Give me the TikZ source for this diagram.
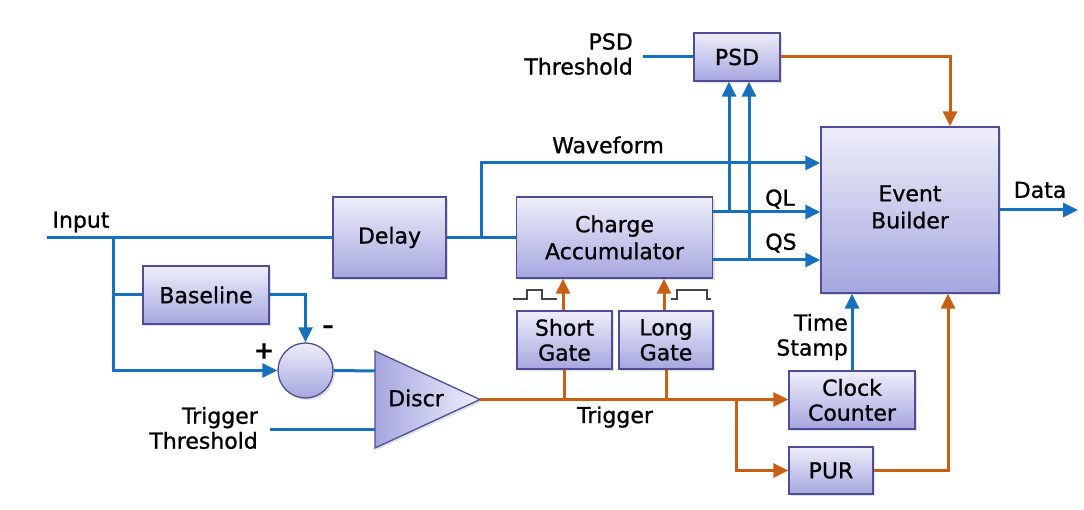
\documentclass[tikz,border=0pt]{standalone}
\usepackage{fontspec}
\setmainfont{DejaVu Sans}[FakeBold=0.9]
\usetikzlibrary{arrows.meta,calc,shadows}
\definecolor{bl}{RGB}{22,112,188}
\definecolor{og}{RGB}{200,95,20}
\definecolor{bxt}{RGB}{238,238,250}
\definecolor{bxb}{RGB}{166,166,224}
\definecolor{bxd}{RGB}{78,78,150}
\definecolor{pulse}{RGB}{70,70,70}
\begin{document}
\begin{tikzpicture}[x=1pt,y=-1pt,
  font=\fontsize{22}{25}\selectfont,
  blk/.style={draw=bxd, line width=1.3pt, top color=bxt, bottom color=bxb,
    align=center, inner sep=0pt,
    drop shadow={shadow xshift=2pt,shadow yshift=-2pt,opacity=0.25}},
  bw/.style={draw=bl, line width=3pt},
  ow/.style={draw=og, line width=3pt},
  tip/.style={-{Triangle[length=15pt,width=14pt]}},
  lbl/.style={inner sep=0pt, align=center},
  pulseln/.style={draw=pulse, line width=1.4pt}
]
\useasboundingbox (0,0) rectangle (1084,510);

% blocks
\node[blk, minimum width=113pt, minimum height=81pt] (delay) at (389.5,237.5) {Delay};
\node[blk, minimum width=126pt, minimum height=58pt] (base) at (206,295) {Baseline};
\node[blk, circle, minimum size=55pt] (sum) at (305.5,370.5) {};
\node[blk, minimum width=196pt, minimum height=81pt] (ca) at (614.5,237.5) {Charge\\[2pt]Accumulator};
\node[blk, minimum width=95pt, minimum height=58pt] (sg) at (564.5,340) {Short\\Gate};
\node[blk, minimum width=94pt, minimum height=58pt] (lg) at (666,340) {Long\\Gate};
\node[blk, minimum width=86pt, minimum height=48pt] (psd) at (737,57) {PSD};
\node[blk, minimum width=178pt, minimum height=166pt] (eb) at (910,210) {};
\node[lbl] (ebtxt) at (910,207) {Event\\[2pt]Builder};
\node[blk, minimum width=126pt, minimum height=58pt] (clk) at (852,400) {Clock\\Counter};
\node[blk, minimum width=84pt, minimum height=47pt] (pur) at (831,470.5) {PUR};

% discriminator triangle
\coordinate (dA) at (375,371);
\coordinate (dB) at (375,429);
\coordinate (dOut) at (480,399.5);
\path[draw=bxd, line width=1.3pt, left color=bxb, right color=bxt,
  drop shadow={shadow xshift=2pt,shadow yshift=-2pt,opacity=0.25}]
  (375,351) -- (dOut) -- (375,448) -- cycle;
\node[lbl] (discr) at (416,398) {Discr};

% free ends
\coordinate (in) at (47,237.5);
\coordinate (j1) at (113,237.5);
\coordinate (thr) at (270,429);
\coordinate (psdthr) at (643,57);
\coordinate (jw) at (481,237.5);
\coordinate (t2) at (736,399.5);
\coordinate (dataout) at (1078,210);

% blue connectors
\draw[bw] (in) -- (delay.west);
\draw[bw] (j1) |- (base.west);
\draw[bw,tip] (j1) |- (sum.west);
\draw[bw,tip] (base.east) -| (sum.north);
\draw[bw] (sum.east) -- (dA);
\draw[bw] (thr) -- (dB);
\draw[bw] (delay.east) -- (ca.west);
\draw[bw,tip] (jw) |- (eb.west |- 0,163);
\draw[bw,tip] ($(ca.east)+(0,-25.5)$) coordinate (ql) -- (ql -| eb.west);
\draw[bw,tip] ($(ca.east)+(0,22.5)$) coordinate (qs) -- (qs -| eb.west);
\draw[bw,tip] (ql -| 729,0) -- (psd.south -| 729,0);
\draw[bw,tip] (qs -| 749,0) -- (psd.south -| 749,0);
\draw[bw] (psdthr) -- (psd.west);
\draw[bw,tip] (clk.north) -- (clk.north |- eb.south);
\draw[bw,tip] (eb.east) -- (dataout);

% orange connectors
\draw[ow,tip] (dOut) -- (dOut -| clk.west);
\draw[ow] (sg.south) -- (sg.south |- dOut);
\draw[ow] (lg.south) -- (lg.south |- dOut);
\draw[ow,tip] (sg.north -| 563,0) -- (ca.south -| 563,0);
\draw[ow,tip] (lg.north -| 664,0) -- (ca.south -| 664,0);
\draw[ow,tip] (t2) |- (pur.west);
\draw[ow,tip] (pur.east) -| (eb.south -| 948,0);
\draw[ow,tip] (psd.east) -| (eb.north -| 950,0);

% gate pulses
\draw[pulseln] (513,299) -- (527,299) -- (527,290) -- (542,290) -- (542,299) -- (557,299);
\draw[pulseln] (671,299) -- (677,299) -- (677,290) -- (707,290) -- (707,299) -- (711,299);

% labels
\node[lbl] (linput) at (81,222) {Input};
\node[lbl, font=\fontsize{22}{22}\selectfont\bfseries] (lminus) at (328,329) {–};
\node[lbl, font=\fontsize{24}{24}\selectfont\bfseries] (lplus) at (264,351) {+};
\node[lbl, anchor=east, align=right] (lthr) at (258,428) {Trigger\\Threshold};
\node[lbl, anchor=east, align=right] (lpsdthr) at (633,54) {PSD\\Threshold};
\node[lbl] (lwave) at (608,145) {Waveform};
\node[lbl] (lql) at (780,199) {QL};
\node[lbl] (lqs) at (781,243) {QS};
\node[lbl] (ldata) at (1040,190) {Data};
\node[lbl, anchor=east, align=right] (lts) at (848,337) {Time\\Stamp};
\node[lbl] (ltrig) at (615,417) {Trigger};
\end{tikzpicture}
\end{document}
